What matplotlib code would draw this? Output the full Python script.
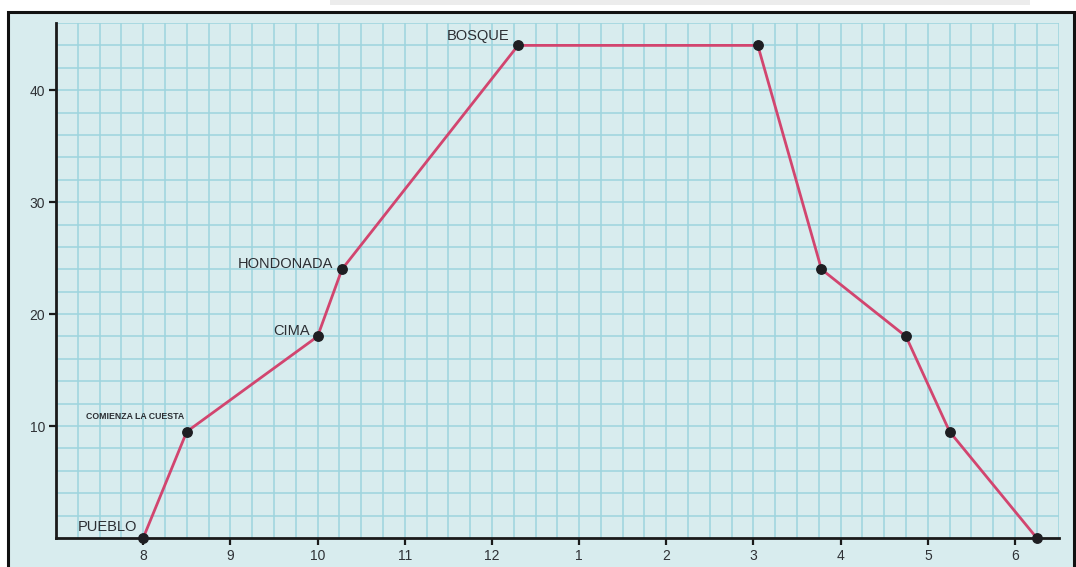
import matplotlib
matplotlib.use("Agg")
import matplotlib.pyplot as plt
from matplotlib.patches import Rectangle
import numpy as np

# Data: hour of day (continuous, 24h) vs. distance
hours = [8.0, 8.5, 10.0, 10.28, 12.3, 15.05, 15.78, 16.75, 17.25, 18.25]
distance = [0, 9.5, 18, 24, 44, 44, 24, 18, 9.5, 0]
place_labels = ["PUEBLO", "COMIENZA LA CUESTA", "CIMA", "HONDONADA", "BOSQUE"]
place_index = [0, 1, 2, 3, 4]
x_tick_pos = [8, 9, 10, 11, 12, 13, 14, 15, 16, 17, 18]
x_tick_labels = ["8", "9", "10", "11", "12", "1", "2", "3", "4", "5", "6"]
y_ticks = [10, 20, 30, 40]

W, H = 1076, 567
fig = plt.figure(figsize=(W / 100, H / 100), dpi=100)
fig.patch.set_facecolor("white")

bg = "#d8ecee"
# paper frame
fig.patches.append(Rectangle((8 / W, -0.01), (1074 - 8) / W, (H - 12) / H + 0.01,
                             transform=fig.transFigure, facecolor=bg,
                             edgecolor="#111111", linewidth=2.2, zorder=-2))
# faint shadow bar at the top
fig.patches.append(Rectangle((330 / W, (H - 5) / H), (1030 - 330) / W, 5 / H,
                             transform=fig.transFigure, facecolor="#ececec",
                             edgecolor="none", zorder=-2))

ax = fig.add_axes([56 / W, (H - 538) / H, (1058.6 - 56) / W, 515 / H])
ax.set_zorder(1)
ax.set_facecolor("none")
ax.set_xlim(7, 18.5)
ax.set_ylim(0, 46)

grid_c = "#9dd4de"
for gx in np.arange(7.25, 18.51, 0.25):
    ax.axvline(gx, color=grid_c, lw=1.1, zorder=1)
for gy in np.arange(2, 46.1, 2):
    ax.axhline(gy, color=grid_c, lw=1.1, zorder=1)

ax.plot(hours, distance, color="#d2456f", lw=2.0, zorder=3, clip_on=False)
ax.plot(hours, distance, "o", color="#1e1e22", ms=6.8, zorder=4, clip_on=False)

offsets = [(-4.5, 8.0, 10.5), (-1.5, 11.0, 6.3), (-5.8, 4.3, 10.5),
           (-6.5, 3.6, 10.5), (-6.5, 6.5, 10.5)]
for lab, idx, (dx, dy, fs) in zip(place_labels, place_index, offsets):
    ax.annotate(lab, (hours[idx], distance[idx]), xytext=(dx, dy),
                textcoords="offset points", ha="right", va="center",
                fontsize=fs, color="#2b2e33", family="Liberation Sans",
                fontweight="bold" if fs < 8 else "normal")

for s in ["top", "right"]:
    ax.spines[s].set_visible(False)
for s in ["left", "bottom"]:
    ax.spines[s].set_linewidth(2.0)
    ax.spines[s].set_color("#1a1a1a")
    ax.spines[s].set_zorder(2)

ax.set_xticks(x_tick_pos)
ax.set_xticklabels(x_tick_labels)
ax.set_yticks(y_ticks)
ax.tick_params(axis="both", direction="out", length=5, width=1.6,
               color="#1a1a1a", labelsize=10, labelcolor="#2f3236", pad=3)
for t in ax.get_xticklabels() + ax.get_yticklabels():
    t.set_family("Liberation Sans")

fig.savefig("out.png", dpi=100, facecolor=fig.get_facecolor())
